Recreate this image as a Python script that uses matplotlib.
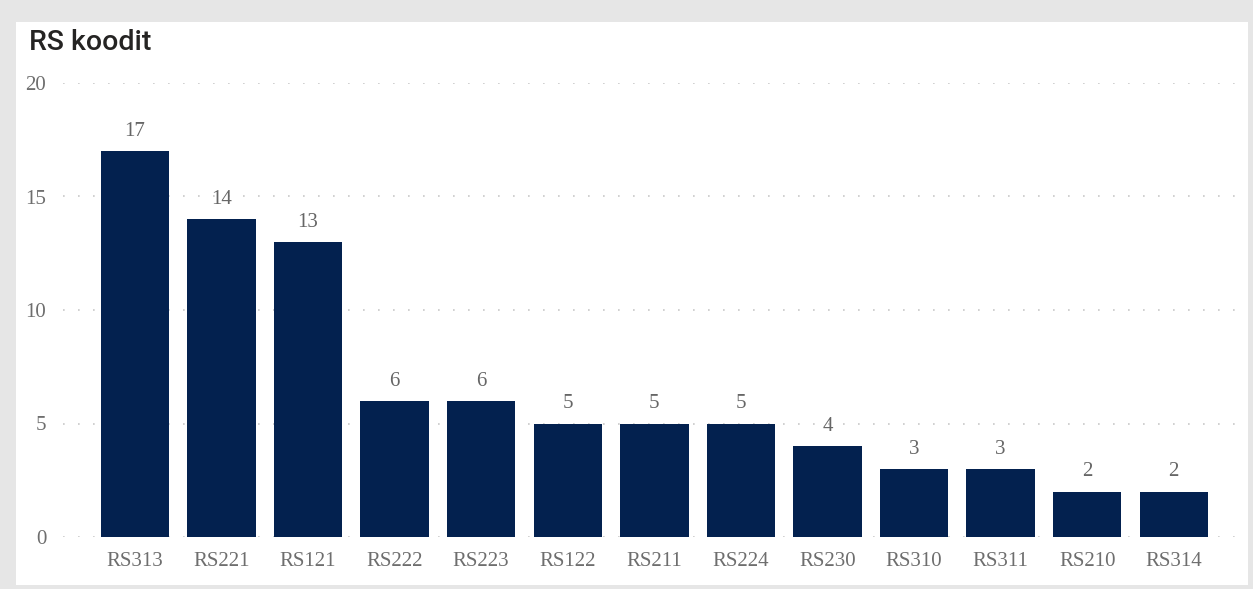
import matplotlib
matplotlib.use("Agg")
import matplotlib.pyplot as plt
from matplotlib.patches import Rectangle

categories = ["RS313", "RS221", "RS121", "RS222", "RS223", "RS122", "RS211",
              "RS224", "RS230", "RS310", "RS311", "RS210", "RS314"]
values = [17, 14, 13, 6, 6, 5, 5, 5, 4, 3, 3, 2, 2]
y_ticks = [0, 5, 10, 15, 20]

W, H = 1253, 589
fig = plt.figure(figsize=(W / 100, H / 100), dpi=100)
fig.patch.set_facecolor("#e6e6e6")
fig.patches.append(Rectangle((16 / W, 1 - 585 / H), (1248 - 16) / W, (585 - 22) / H,
                             transform=fig.transFigure, facecolor="white",
                             edgecolor="none", zorder=-10))

ax = fig.add_axes([63 / W, 1 - 537 / H, (1237 - 63) / W, (537 - 83) / H])
ax.set_facecolor("none")
ax.set_zorder(5)
x = list(range(len(categories)))
ax.bar(x, values, width=0.79, color="#03214f", zorder=3)
for xi, v in zip(x, values):
    ax.annotate(str(v), (xi, v), xytext=(0, 11), textcoords="offset points",
                ha="center", va="baseline",
                family="Liberation Serif", fontsize=15, color="#666666")

ax.set_xlim(-0.83, 12.73)
ax.set_ylim(0, 20)
ax.set_yticks(y_ticks)
ax.set_xticks(x)
ax.set_xticklabels(categories)
for lbl in ax.get_xticklabels() + ax.get_yticklabels():
    lbl.set_family("Liberation Serif")
    lbl.set_fontsize(15)
    lbl.set_color("#6e6e6e")
ax.tick_params(axis="both", length=0)
ax.tick_params(axis="x", pad=10.5)
ax.tick_params(axis="y", pad=12)
ax.grid(axis="y", color="#c8c8c8", linestyle=(0, (1, 8)), linewidth=1.2, zorder=0)
ax.set_axisbelow(True)
for s in ax.spines.values():
    s.set_visible(False)

fig.text(29 / W, 1 - 50 / H, "RS koodit", ha="left", va="baseline",
         family="Roboto", fontweight="medium", fontsize=20.5, color="#252423")

fig.savefig("out.png", dpi=100, facecolor=fig.get_facecolor())
